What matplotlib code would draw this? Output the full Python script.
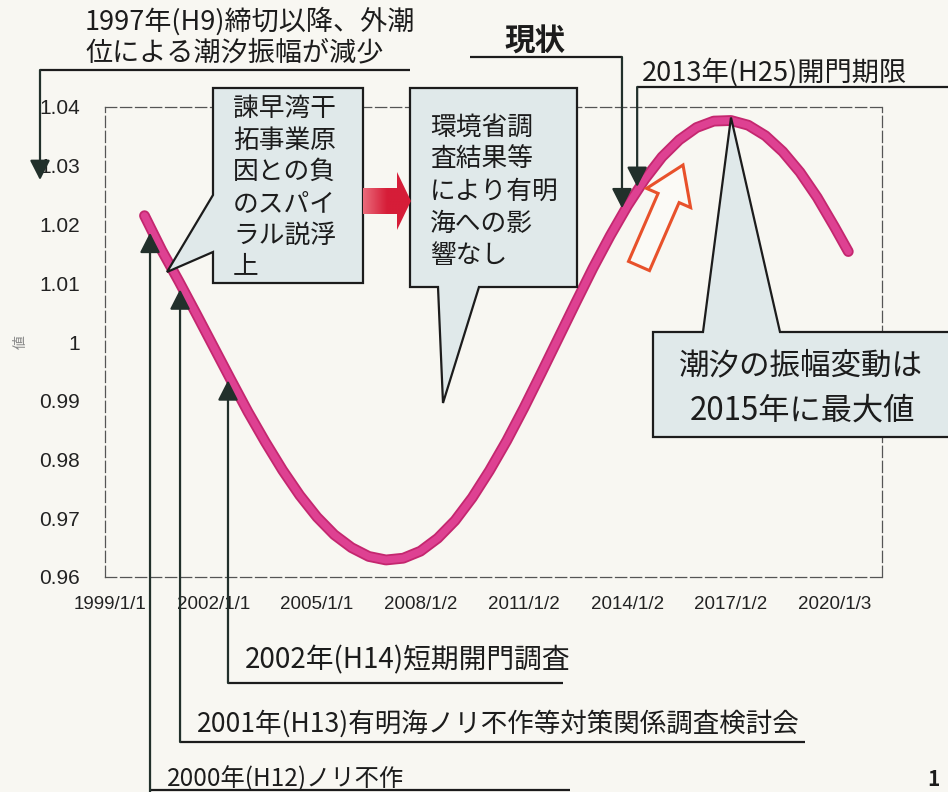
import numpy as np
import matplotlib
matplotlib.use("Agg")
import matplotlib.pyplot as plt
from matplotlib.patches import Polygon
from matplotlib.colors import LinearSegmentedColormap

plt.rcParams['font.family'] = ['Noto Sans CJK JP', 'DejaVu Sans']

# ── values -------------------------------------------------------------------
years = [2000.0, 2000.5, 2001.0, 2001.5, 2002.0, 2002.5, 2003.0, 2003.5,
         2004.0, 2004.5, 2005.0, 2005.5, 2006.0, 2006.5, 2007.0, 2007.5,
         2008.0, 2008.5, 2009.0, 2009.5, 2010.0, 2010.5, 2011.0, 2011.5,
         2012.0, 2012.5, 2013.0, 2013.5, 2014.0, 2014.5, 2015.0, 2015.5,
         2016.0, 2016.5, 2017.0, 2017.5, 2018.0, 2018.5, 2019.0, 2019.5,
         2020.0, 2020.4]
values = [1.0215, 1.0156, 1.0103, 1.0048, 0.9992, 0.9936, 0.9881, 0.9830,
          0.9782, 0.9739, 0.9702, 0.9672, 0.9650, 0.9635, 0.9629, 0.9632,
          0.9644, 0.9666, 0.9696, 0.9735, 0.9781, 0.9832, 0.9888, 0.9947,
          1.0007, 1.0067, 1.0126, 1.0181, 1.0232, 1.0277, 1.0315, 1.0344,
          1.0365, 1.0376, 1.0377, 1.0369, 1.0351, 1.0324, 1.0289, 1.0246,
          1.0196, 1.0154]

ytick_vals = [0.96, 0.97, 0.98, 0.99, 1.00, 1.01, 1.02, 1.03, 1.04]
ytick_labels = ['0.96', '0.97', '0.98', '0.99', '1', '1.01', '1.02', '1.03', '1.04']
xtick_years = [1999, 2002, 2005, 2008, 2011, 2014, 2017, 2020]
xtick_labels = ['1999/1/1', '2002/1/1', '2005/1/1', '2008/1/2',
                '2011/1/2', '2014/1/2', '2017/1/2', '2020/1/3']

# where the event arrows touch the curve (year on the axis)
event_years = {'H12': 2000.16, 'H13': 2001.03, 'H14': 2002.42,
               'now': 2013.84, 'H25': 2014.28}

box1_lines = ['諫早湾干', '拓事業原', '因との負', 'のスパイ', 'ラル説浮', '上']
box2_lines = ['環境省調', '査結果等', 'により有明', '海への影', '響なし']
box3_lines = ['潮汐の振幅変動は', '2015年に最大値']

BG = '#f8f7f2'
INK = '#1c1c1c'
HEAD = '#22302b'
BOX = '#e0e9ea'

W, H = 948, 792
fig = plt.figure(figsize=(W / 100, H / 100), dpi=100, facecolor=BG)

# ── main chart ---------------------------------------------------------------
ax = fig.add_axes([105 / W, 1 - 577 / H, 777 / W, 470 / H])
ax.set_facecolor(BG)
ppy = 34.5  # pixels per year
ax.set_xlim(1999 - 5 / ppy, 1999 + 772 / ppy)
ax.set_ylim(0.96, 1.04)

ax.plot(years, values, color='#c4276f', lw=7.8, solid_capstyle='round',
        solid_joinstyle='round', zorder=3)
ax.plot(years, values, color='#de4192', lw=5.2, solid_capstyle='round',
        solid_joinstyle='round', zorder=4)

ax.set_yticks(ytick_vals, ytick_labels)
ax.set_xticks(xtick_years, xtick_labels)
ax.tick_params(axis='y', length=0, pad=18, labelsize=15, labelcolor='#222222')
ax.tick_params(axis='x', length=0, pad=14, labelsize=13.5, labelcolor='#222222')
for lbl in ax.get_xticklabels() + ax.get_yticklabels():
    lbl.set_fontfamily('Liberation Sans')
for sp in ax.spines.values():
    sp.set_color('#555555')
    sp.set_linewidth(0.9)
    sp.set_linestyle((0, (9, 3)))

ax.set_ylabel('値', fontsize=10, color='#888888')
ax.yaxis.set_label_coords(-0.10, 0.5)

# ── overlay in pixel coordinates for the notes ------------------------------
ov = fig.add_axes([0, 0, 1, 1], facecolor='none')
ov.set_xlim(0, W)
ov.set_ylim(H, 0)
ov.axis('off')


def to_px(t, v):
    X, Y = ax.transData.transform((t, v))
    return X, H - Y


def curve_px(t):
    return to_px(t, np.interp(t, years, values))


def line(xs, ys):
    ov.plot(xs, ys, color=INK, lw=1.6, solid_capstyle='butt', zorder=6)


def arrow(base, tip):
    ov.annotate('', xy=tip, xytext=base, zorder=7,
                arrowprops=dict(arrowstyle='-|>,head_length=0.55,head_width=0.28',
                                color=HEAD, lw=1.6, mutation_scale=22,
                                shrinkA=0, shrinkB=0))


def text(x, y, s, size, **kw):
    ov.text(x, y, s, fontsize=size, color=INK, ha=kw.pop('ha', 'left'),
            va='center', zorder=8, **kw)


# top-left note
text(85, 21, '1997年(H9)締切以降、外潮', 19.5)
text(85, 53, '位による潮汐振幅が減少', 19.5)
line([40, 410], [70, 70])
arrow((40, 70), (40, 180))

# "現状"
xn, yn = curve_px(event_years['now'])
text(504, 42, '現状', 22, fontweight='bold')
line([470, xn], [57, 57])
arrow((xn, 57), (xn, yn - 7))

# 2013 deadline
x25, y25 = curve_px(event_years['H25'])
text(642, 72, '2013年(H25)開門期限', 19.6)
line([x25, W], [87, 87])
arrow((x25, 87), (x25, y25 - 4))

# bottom notes
bottom = [('H14', 683, 660, '2002年(H14)短期開門調査', 563, 20),
          ('H13', 742, 724, '2001年(H13)有明海ノリ不作等対策関係調査検討会', 805, 19.1),
          ('H12', 790, 779, '2000年(H12)ノリ不作', 570, 17.5)]
for key, ybase, ytext, s, xend, fs in bottom:
    xe, ye = curve_px(event_years[key])
    line([xe, xend], [ybase, ybase])
    arrow((xe, ybase + 10 if key == 'H12' else ybase), (xe, ye + 6))
    text(xe + 17, ytext, s, fs)

# callout 1
box1 = Polygon([(213, 88), (363, 88), (363, 283), (213, 283), (213, 252),
                (167, 272), (213, 195)], closed=True, facecolor=BOX,
               edgecolor=INK, lw=1.6, zorder=5)
ov.add_patch(box1)
for i, s in enumerate(box1_lines):
    text(233, 109 + i * 31.6, s, 18.5)

# callout 2
box2 = Polygon([(410, 88), (577, 88), (577, 287), (479, 287), (443, 403),
                (438, 287), (410, 287)], closed=True, facecolor=BOX,
               edgecolor=INK, lw=1.6, zorder=5)
ov.add_patch(box2)
for i, s in enumerate(box2_lines):
    text(430, 127.5 + i * 32.2, s, 18.5)

# red arrow between the callouts
red = Polygon([(363, 188), (397, 188), (397, 172), (411, 201), (397, 230),
               (397, 214), (363, 214)], closed=True, facecolor='none',
              edgecolor='none', zorder=5)
ov.add_patch(red)
grad = ov.imshow(np.linspace(0, 1, 64).reshape(1, -1), extent=(363, 411, 230, 172),
                 cmap=LinearSegmentedColormap.from_list('r', ['#ea6a7a', '#d61d38', '#d61d38']),
                 aspect='auto', zorder=5)
grad.set_clip_path(red)

# hollow orange arrow
orange = Polygon([(628.5, 261.4), (658.1, 193.4), (646.6, 188.4), (683, 165),
                  (690.6, 207.6), (679.1, 202.6), (649.5, 270.6)], closed=True,
                 facecolor='#fbfaf6', edgecolor='#e8512b', lw=2.2, zorder=5,
                 joinstyle='miter')
ov.add_patch(orange)

# callout 3 pointing at the peak
ipk = int(np.argmax(values))
xp, yp = to_px(years[ipk], values[ipk])
box3 = Polygon([(653, 332), (703, 332), (xp, yp - 3), (780, 332), (960, 332),
                (960, 437), (653, 437)], closed=True, facecolor=BOX,
               edgecolor=INK, lw=1.6, zorder=5)
ov.add_patch(box3)
text(801, 366, box3_lines[0], 22, ha='center')
text(803, 411, box3_lines[1], 22.5, ha='center')

# page number
text(927, 779, '1', 15, fontweight='bold')

fig.savefig('out.png', dpi=100, facecolor=BG)
